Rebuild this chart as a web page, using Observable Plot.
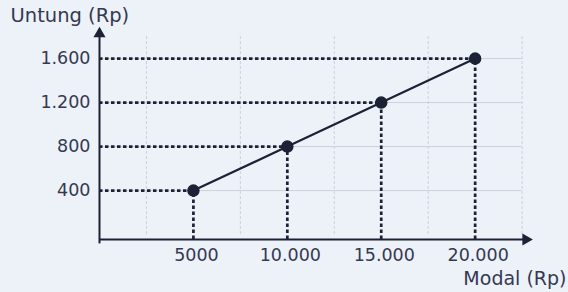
<!DOCTYPE html>
<html><head><meta charset="utf-8">
<script src="https://cdn.jsdelivr.net/npm/d3@7"></script>
<script src="https://cdn.jsdelivr.net/npm/@observablehq/plot@0.6"></script>
<style>
body{margin:0;background:#edf1f8;}
svg{display:block;}
</style>
</head><body><div id="chart"></div>
<script>
const modal = [5000, 10000, 15000, 20000];
const untung = [400, 800, 1200, 1600];
const xTicks = [5000, 10000, 15000, 20000];
const xTickLabels = ["5000", "10.000", "15.000", "20.000"];
const yTicks = [400, 800, 1200, 1600];
const yTickLabels = ["400", "800", "1.200", "1.600"];
const gridX = [2500, 7500, 12500, 17500, 22500];
const xTitle = "Modal (Rp)";
const yTitle = "Untung (Rp)";
const xMin = 0, xMax = 23000, yMin = -45, yMax = 1855;

const pts = modal.map((m, i) => ({modal: m, untung: untung[i]}));
const ink = "#1c2135";
const textInk = "#343952";
const faint = "#cdd1dc";

const chart = Plot.plot({
  width: 568,
  height: 292,
  marginLeft: 99,
  marginRight: 37,
  marginTop: 30,
  marginBottom: 53,
  style: {background: "#edf1f8", fontFamily: "'DejaVu Sans', Verdana, sans-serif", color: textInk},
  x: {domain: [xMin, xMax], axis: null},
  y: {domain: [yMin, yMax], axis: null},
  marks: [
    Plot.ruleX(gridX, {y1: 0, y2: 1820, stroke: faint, strokeWidth: 1, strokeDasharray: "3,2"}),
    Plot.ruleY(yTicks, {x1: 0, x2: 22500, stroke: faint, strokeWidth: 1}),
    Plot.ruleY(pts, {y: "untung", x1: 0, x2: "modal", stroke: ink, strokeWidth: 2.7, strokeDasharray: "3.5,2.5"}),
    Plot.ruleX(pts, {x: "modal", y1: yMin, y2: "untung", stroke: ink, strokeWidth: 2.7, strokeDasharray: "3.5,2.5"}),
    Plot.line(pts, {x: "modal", y: "untung", stroke: ink, strokeWidth: 2.2}),
    Plot.dot(pts, {x: "modal", y: "untung", r: 5.5, fill: ink, stroke: ink}),
    Plot.ruleY([yMin], {x1: xMin, x2: xMax - 400, stroke: ink, strokeWidth: 2}),
    Plot.ruleX([xMin], {y1: yMin - 40, y2: yMax - 60, stroke: ink, strokeWidth: 2}),
    Plot.dot([[xMax - 300, yMin]], {x: d => d[0], y: d => d[1], symbol: "triangle", r: 4.5, fill: ink, stroke: "none", rotate: 90}),
    Plot.dot([[xMin, yMax - 30]], {x: d => d[0], y: d => d[1], symbol: "triangle", r: 4.5, fill: ink, stroke: "none"}),
    Plot.text(yTicks, {x: xMin, y: d => d, text: (d, i) => yTickLabels[i], textAnchor: "end", dx: -9, fontSize: 17.5, fill: textInk}),
    Plot.text(xTicks, {x: d => d, y: yMin, text: (d, i) => xTickLabels[i], dy: 16, dx: 3, fontSize: 17.5, fill: textInk}),
    Plot.text([yTitle], {frameAnchor: "top-left", dx: -89, dy: -22, fontSize: 19.5, fill: textInk}),
    Plot.text([xTitle], {frameAnchor: "bottom-right", dx: 35, dy: 45, fontSize: 19, fill: textInk})
  ]
});
document.getElementById("chart").append(chart);
</script>
</body></html>
